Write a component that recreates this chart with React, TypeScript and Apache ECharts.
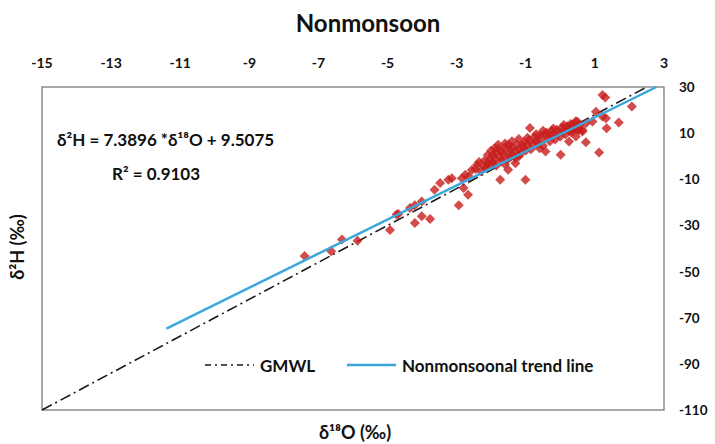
import React, { useEffect, useRef } from "react";
import * as echarts from "echarts";

const xTicks = { min: -15, max: 3, interval: 2 };
const yTicks = { min: -110, max: 30, interval: 20 };

const samples: [number, number][] = [
  [-7.4, -43.3], [-6.63, -41.2], [-6.32, -36.1], [-5.87, -36.6], [-4.93, -32.0],
  [-4.74, -25.3], [-4.69, -25.0], [-4.35, -22.4], [-4.21, -21.2], [-4.01, -19.6],
  [-4.21, -28.9], [-4.01, -26.0], [-3.77, -27.2], [-3.64, -14.5], [-3.48, -11.6],
  [-3.24, -10.2], [-3.14, -9.5], [-2.94, -21.2], [-2.8, -13.8], [-2.67, -16.7],
  [-2.75, -8.0], [-2.65, -8.8], [-2.85, -9.5], [-2.56, -6.0], [-2.41, -3.7],
  [-2.45, -5.5], [-2.2, -4.5], [-2.1, -3.0], [-1.74, -10.2], [-1.01, -10.2],
  [-1.51, -5.9], [-1.3, -3.0], [-1.6, -3.5],
  [-2.0, 2.5], [-1.95, 0.5], [-1.9, -1.0], [-1.85, 1.5], [-1.8, 3.2], [-1.75, -0.5],
  [-1.7, 2.0], [-1.65, 0.8], [-1.6, 3.8], [-1.55, -1.5], [-1.5, 1.0], [-1.45, 2.8],
  [-1.4, 4.0], [-1.35, 0.2], [-1.3, 2.2], [-1.25, 5.0], [-1.2, 3.0], [-1.15, 1.2],
  [-1.1, 4.5], [-1.05, 6.0], [-2.05, -1.5], [-1.9, 3.5], [-1.7, -2.0], [-1.5, 5.0],
  [-1.3, -0.8], [-1.0, 2.5], [-0.95, 5.5],
  [-2.3, -6.5], [-2.2, -2.0], [-2.15, -5.0], [-2.0, -3.5], [-1.95, -2.5], [-2.35, -2.5],
  [-1.85, -4.0], [-1.2, 0.0], [-1.05, 3.5], [-0.95, 8.0], [-0.85, 3.0], [-0.7, 9.5],
  [-0.65, 5.5], [-0.5, 11.0], [-0.3, 9.0], [-0.2, 12.0], [0.1, 13.5], [0.3, 14.0],
  [0.45, 8.5], [-1.6, 5.5], [-1.8, 5.0], [-1.4, 6.5], [-1.2, 7.5], [-2.1, 0.5], [-1.45, -0.5],
  [-0.9, 7.0], [-0.88, 12.2], [-0.8, 5.0], [-0.75, 8.2], [-0.7, 6.5], [-0.6, 9.0],
  [-0.55, 7.5], [-0.5, 4.5], [-0.45, 9.5], [-0.43, 2.0], [-0.4, 10.3], [-0.35, 8.0],
  [-0.3, 6.5], [-0.25, 11.0], [-0.2, 9.0], [-0.15, 7.2], [-0.1, 11.5], [-0.05, 10.0],
  [0.0, 8.5], [0.05, 12.5], [0.1, 11.0], [0.15, 9.5], [0.2, 13.0], [0.25, 11.5],
  [0.3, 10.5], [0.35, 13.5], [0.4, 12.0], [0.44, 15.0], [0.5, 11.5], [0.55, 13.5],
  [0.54, 11.4], [0.64, 10.7], [0.25, 6.4], [0.01, 0.6], [0.74, 6.0], [0.64, 11.4],
  [0.74, 14.3], [-0.6, 3.5], [0.49, 15.0], [0.35, 10.7],
  [0.93, 15.0], [1.03, 19.3], [1.22, 17.2], [1.32, 16.5], [1.34, 12.1], [1.69, 14.6],
  [2.07, 21.5], [1.22, 26.5], [1.3, 25.5], [1.12, 1.6],
];

const gmwl: [number, number][] = [[-15, -110], [2.5, 30]];
const trend: [number, number][] = [[-11.4, -74.7], [2.78, 30]];

const FONT = "Lato, 'Open Sans', sans-serif";
const GMWL_DASH = [11, 4, 2, 4];
const BLUE = "#3ba7dc";

export default function App() {
  const ref = useRef<HTMLDivElement>(null);
  useEffect(() => {
    if (!ref.current) return;
    const chart = echarts.init(ref.current, undefined, { renderer: "svg" });
    chart.setOption({
      animation: false,
      backgroundColor: "#ffffff",
      textStyle: { fontFamily: FONT },
      grid: {
        left: 42, right: 51, top: 87, bottom: 34,
        show: true, borderColor: "#8c8c8c", borderWidth: 1.5,
      },
      xAxis: {
        type: "value", position: "top", ...xTicks,
        axisLine: { show: false }, axisTick: { show: false }, splitLine: { show: false },
        axisLabel: { color: "#111", fontWeight: "bold", fontSize: 14, margin: 18, fontFamily: FONT },
      },
      yAxis: {
        type: "value", position: "right", ...yTicks,
        axisLine: { show: false }, axisTick: { show: false }, splitLine: { show: false },
        axisLabel: { color: "#111", fontWeight: "bold", fontSize: 13.5, margin: 15, fontFamily: FONT },
      },
      series: [
        {
          type: "scatter", name: "samples", data: samples, symbol: "diamond", symbolSize: 10,
          itemStyle: { color: "#c81e1e" }, z: 3,
        },
        {
          type: "line", name: "GMWL", data: gmwl, symbol: "none",
          lineStyle: { color: "#1a1a1a", width: 1.6, type: GMWL_DASH }, z: 2,
        },
        {
          type: "line", name: "Nonmonsoonal trend line", data: trend, symbol: "none",
          lineStyle: { color: BLUE, width: 2.5 }, z: 4,
        },
      ],
      graphic: [
        {
          type: "text", x: 368, y: 22,
          style: { text: "Nonmonsoon", font: `bold 24px ${FONT}`, fill: "#111", align: "center", verticalAlign: "middle" },
        },
        {
          type: "text", x: 57, y: 139,
          style: { text: "δ²H = 7.3896 *δ¹⁸O + 9.5075", font: `bold 17px ${FONT}`, fill: "#111", verticalAlign: "middle" },
        },
        {
          type: "text", x: 112, y: 173,
          style: { text: "R² = 0.9103", font: `bold 17px ${FONT}`, fill: "#111", verticalAlign: "middle" },
        },
        {
          type: "line", shape: { x1: 205, y1: 365, x2: 254, y2: 365 },
          style: { stroke: "#1a1a1a", lineWidth: 1.6, lineDash: [6, 4, 2, 4] },
        },
        {
          type: "text", x: 260, y: 365,
          style: { text: "GMWL", font: `bold 17px ${FONT}`, fill: "#111", verticalAlign: "middle" },
        },
        {
          type: "line", shape: { x1: 347, y1: 365, x2: 396, y2: 365 },
          style: { stroke: BLUE, lineWidth: 2.5 },
        },
        {
          type: "text", x: 402, y: 365,
          style: { text: "Nonmonsoonal trend line", font: `bold 17px ${FONT}`, fill: "#111", verticalAlign: "middle" },
        },
        {
          type: "text", x: 355, y: 432,
          style: { text: "δ¹⁸O (‰)", font: `bold 18px ${FONT}`, fill: "#111", align: "center", verticalAlign: "middle" },
        },
        {
          type: "text", x: 17, y: 247, rotation: Math.PI / 2,
          style: { text: "δ²H (‰)", font: `bold 18px ${FONT}`, fill: "#111", align: "center", verticalAlign: "middle" },
        },
      ],
    });
    return () => chart.dispose();
  }, []);
  return <div ref={ref} style={{ width: 715, height: 444, position: "absolute", left: 0, top: 0 }} />;
}
